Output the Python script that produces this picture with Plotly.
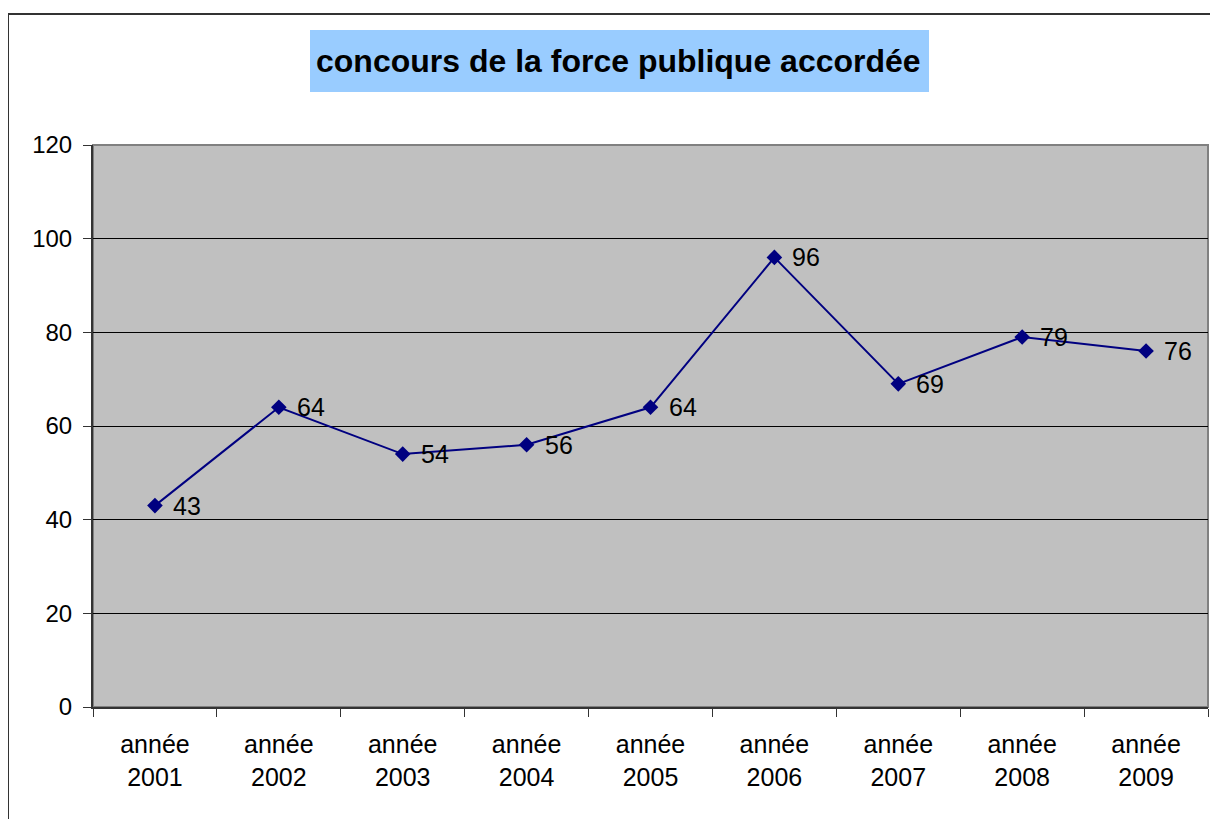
import plotly.graph_objects as go

categories = ["année<br>2001", "année<br>2002", "année<br>2003", "année<br>2004", "année<br>2005",
              "année<br>2006", "année<br>2007", "année<br>2008", "année<br>2009"]
values = [43, 64, 54, 56, 64, 96, 69, 79, 76]
y_ticks = [0, 20, 40, 60, 80, 100, 120]
title_text = "concours de la force publique accordée"

W, H = 1218, 819
OFF = 8  # default page body margin
L, R, T, B = 93, 1208, 145, 707  # target plot area in screen pixels
FONT = "Liberation Sans, Arial, sans-serif"

def px_x(x):
    return (x - L) / (R - L)

def px_y(y):
    return (B - y) / (B - T)

fig = go.Figure()
fig.add_trace(go.Scatter(
    x=categories, y=values, mode="lines+markers",
    line=dict(color="#000080", width=2),
    marker=dict(symbol="diamond", size=12, color="#000080"),
    cliponaxis=False, showlegend=False, hoverinfo="x+y",
))

annotations = [
    dict(text=f"<b>{title_text}</b>", xref="paper", yref="paper",
         x=px_x(618), y=px_y(61), xanchor="center", yanchor="middle",
         showarrow=False, font=dict(family=FONT, size=32, color="#000000")),
]
for c, v in zip(categories, values):
    annotations.append(dict(
        x=c, y=v, xref="x", yref="y", text=str(v), showarrow=False,
        xanchor="left", yanchor="middle", xshift=16, yshift=0,
        font=dict(family=FONT, size=25, color="#000000"),
    ))

fig.update_layout(
    width=W, height=H,
    margin=dict(l=L - OFF, r=W + OFF - R, t=T - OFF, b=H + OFF - B),
    paper_bgcolor="#FFFFFF", plot_bgcolor="#C0C0C0",
    font=dict(family=FONT, size=23, color="#000000"),
    shapes=[
        dict(type="rect", xref="paper", yref="paper", x0=0, x1=1, y0=0, y1=1,
             line=dict(color="#808080", width=2), layer="below"),
        dict(type="rect", xref="paper", yref="paper",
             x0=px_x(310), x1=px_x(929), y0=px_y(92), y1=px_y(30),
             fillcolor="#99CCFF", line=dict(width=0), layer="below"),
        dict(type="path", xref="paper", yref="paper",
             path=f"M {px_x(8)},{px_y(840)} L {px_x(8)},{px_y(14)} L {px_x(1240)},{px_y(14)}",
             line=dict(color="#333333", width=2)),
    ],
    annotations=annotations,
)

fig.update_xaxes(
    type="category", range=[-0.5, len(categories) - 0.5],
    tickson="boundaries", ticks="outside", ticklen=8, tickcolor="#333333", tickwidth=1,
    showline=True, linecolor="#333333", linewidth=2, showgrid=False,
    ticklabelstandoff=14,
    tickfont=dict(family=FONT, size=25, color="#000000"),
)
fig.update_yaxes(
    range=[0, 120], tickvals=y_ticks, ticks="outside", ticklen=8, tickcolor="#333333",
    showline=True, linecolor="#333333", linewidth=2,
    showgrid=True, gridcolor="#000000", gridwidth=1, zeroline=False,
    ticklabelstandoff=6,
    tickfont=dict(family=FONT, size=24, color="#000000"),
)

fig.write_html("out.html")
